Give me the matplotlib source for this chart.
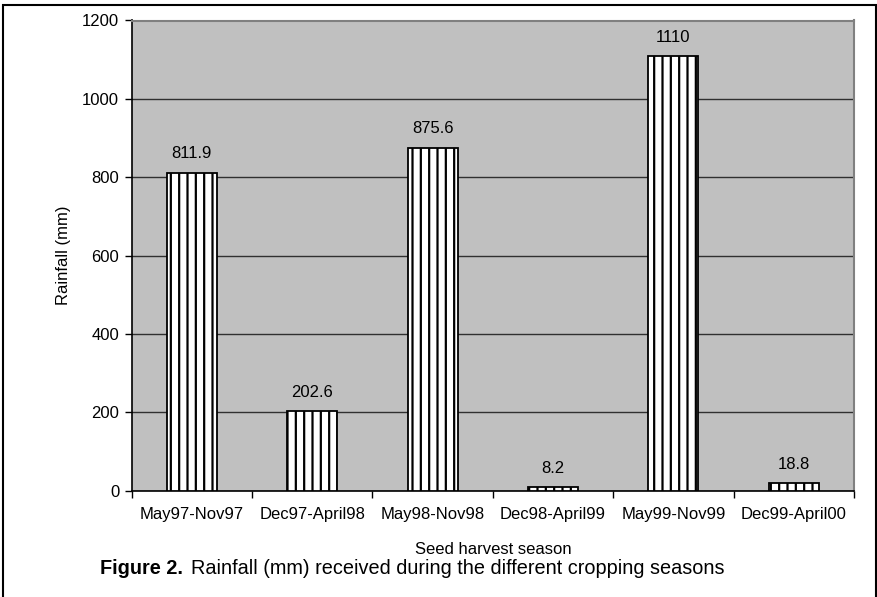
import matplotlib.pyplot as plt
from matplotlib.patches import Rectangle
import numpy as np

plt.rcParams['font.family'] = ['Liberation Sans', 'DejaVu Sans']
plt.rcParams['hatch.linewidth'] = 1.6
plt.rcParams['hatch.color'] = 'black'

# data
seasons = ["May97-Nov97", "Dec97-April98", "May98-Nov98",
           "Dec98-April99", "May99-Nov99", "Dec99-April00"]
rainfall = [811.9, 202.6, 875.6, 8.2, 1110, 18.8]
value_labels = ["811.9", "202.6", "875.6", "8.2", "1110", "18.8"]
y_ticks = [0, 200, 400, 600, 800, 1000, 1200]

fs = 12

fig = plt.figure(figsize=(8.78, 5.97), dpi=100)
ax = fig.add_axes([131.7 / 878, 1 - 490.7 / 597, (854 - 131.7) / 878, (490.7 - 20.5) / 597])
ax.set_facecolor('#c0c0c0')

x = np.arange(len(seasons))
bars = ax.bar(x, rainfall, width=0.415, color='white', edgecolor='black',
              linewidth=1.3, hatch='||', zorder=3)

for xi, v, lab in zip(x, rainfall, value_labels):
    ax.annotate(lab, (xi, v), xytext=(0, 8), textcoords='offset points',
                ha='center', va='bottom', fontsize=fs)

ax.set_xlim(-0.5, len(seasons) - 0.5)
ax.set_ylim(0, 1200)
ax.set_yticks(y_ticks)
ax.yaxis.grid(True, color='#303030', linewidth=1.0, zorder=0)
ax.set_axisbelow(True)

ax.set_xticks(x)
ax.set_xticklabels(seasons, fontsize=fs)
ax.set_xticks(np.arange(len(seasons) + 1) - 0.5, minor=True)
ax.tick_params(axis='x', which='major', length=0, pad=12)
ax.tick_params(axis='x', which='minor', length=5, width=1, color='black')
ax.tick_params(axis='y', length=5, width=1, labelsize=fs, pad=4)

for side in ['left', 'bottom']:
    ax.spines[side].set_color('black')
    ax.spines[side].set_linewidth(1.2)
for side in ['top', 'right']:
    ax.spines[side].set_color('#808080')
    ax.spines[side].set_linewidth(1.5)

ax.set_ylabel("Rainfall (mm)", fontsize=fs, labelpad=8)
ax.set_xlabel("Seed harvest season", fontsize=fs, labelpad=14)

# caption
fig.text(100 / 878, 1 - 568 / 597, "Figure 2.", fontsize=14.3, fontweight='bold',
         va='center', ha='left')
fig.text(191.5 / 878, 1 - 568 / 597, "Rainfall (mm) received during the different cropping seasons",
         fontsize=14.3, va='center', ha='left')

# frame around the figure
fig.add_artist(Rectangle((3 / 878, -0.01), (876 - 3) / 878, 1 - 5 / 597 + 0.01,
                         transform=fig.transFigure, fill=False,
                         edgecolor='black', linewidth=1.5))

fig.savefig("out.png", dpi=100)
